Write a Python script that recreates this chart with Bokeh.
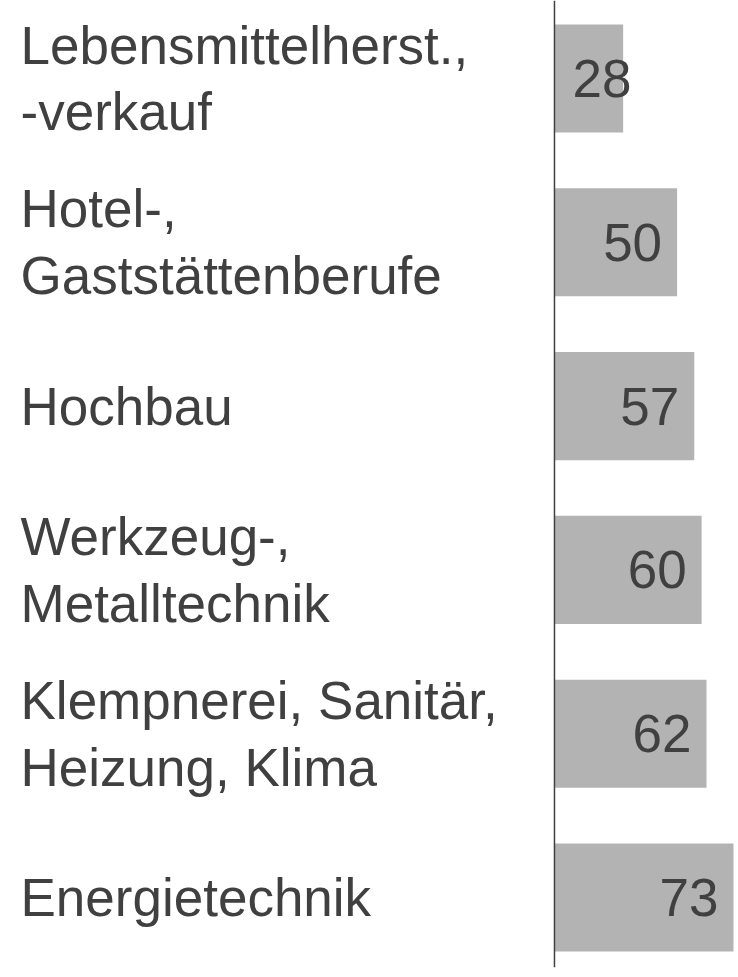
import numpy as np
from bokeh.plotting import figure
from bokeh.models import ColumnDataSource, Range1d, Span, LabelSet
from bokeh.core.properties import value
from bokeh.embed import file_html
from bokeh.resources import INLINE

categories = [
    "Lebensmittelherst.,\n-verkauf",
    "Hotel-,\nGaststättenberufe",
    "Hochbau",
    "Werkzeug-,\nMetalltechnik",
    "Klempnerei, Sanitär,\nHeizung, Klima",
    "Energietechnik",
]
values = [28, 50, 57, 60, 62, 73]

BAR = "#b3b3b3"
TXT = "#404040"
FONT = "Liberation Sans"
FS = "53px"

vals = np.array(values)
pos = np.arange(len(values))
labels = [str(v) for v in values]

src = ColumnDataSource(dict(y=pos, v=vals, cat=categories, lab=labels))
inside = vals >= 30
src_in = ColumnDataSource(dict(y=pos[inside], v=vals[inside], lab=[l for l, k in zip(labels, inside) if k]))
src_out = ColumnDataSource(dict(y=pos[~inside], v=np.zeros((~inside).sum()), lab=[l for l, k in zip(labels, inside) if not k]))

p = figure(width=738, height=977, output_backend="svg", toolbar_location=None,
           x_range=Range1d(-225.9, 75.04), y_range=Range1d(len(values) - 1 + 0.427, -0.476),
           min_border=0, min_border_bottom=10, outline_line_color=None,
           x_axis_location=None, y_axis_location=None)
p.grid.visible = False
p.background_fill_color = "white"
p.border_fill_color = "white"

p.hbar(y="y", left=0, right="v", height=0.66, source=src, fill_color=BAR, line_color=None)

p.add_layout(Span(location=0, dimension="height", line_color=TXT, line_width=1.5))

p.text(x="v", y="y", text="lab", source=src_in, text_align="right", text_baseline="middle",
       x_offset=-15, text_font=value(FONT), text_font_size=FS, text_color=TXT)
p.text(x="v", y="y", text="lab", source=src_out, text_align="left", text_baseline="middle",
       x_offset=18, text_font=value(FONT), text_font_size=FS, text_color=TXT)

cats = LabelSet(x=20, x_units="screen", y="y", text="cat", source=src,
                text_align="left", text_baseline="middle", text_font=value(FONT),
                text_font_size=FS, text_color=TXT, text_line_height=1.13)
p.add_layout(cats)

open("out.html", "w").write(file_html(p, INLINE))
